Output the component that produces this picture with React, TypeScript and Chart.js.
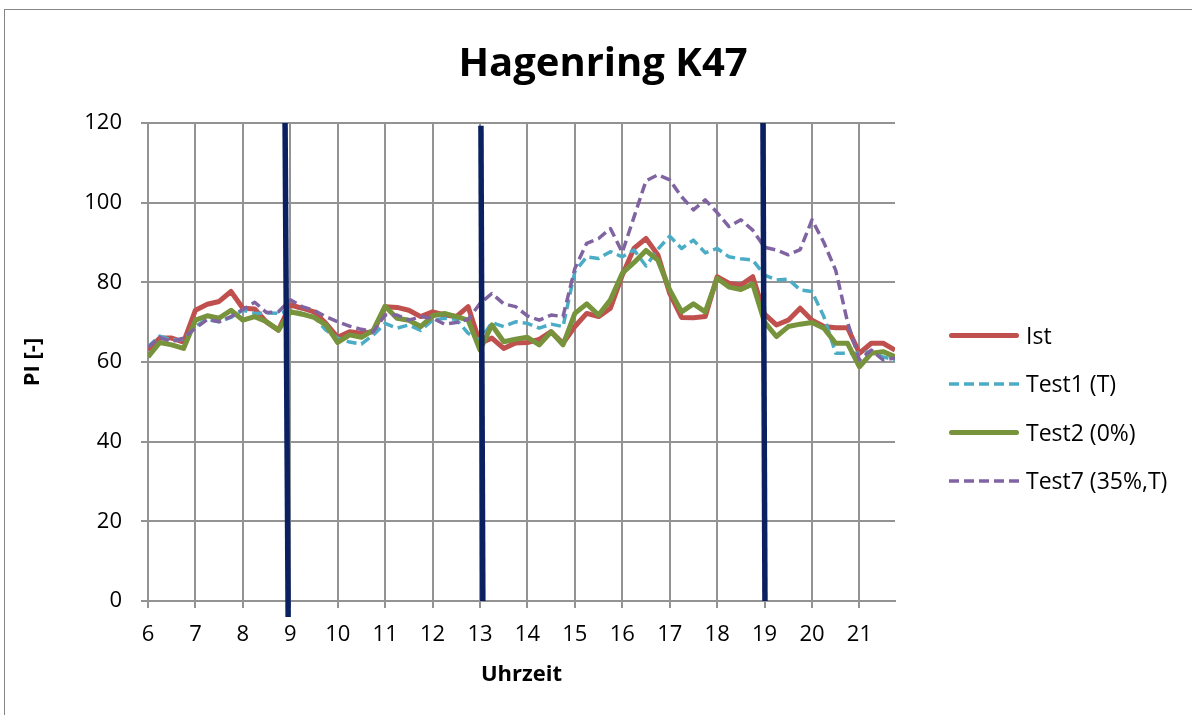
import React, { useEffect, useRef } from 'react';
import { Chart, registerables } from 'chart.js';

Chart.register(...registerables);

const chartTitle = 'Hagenring K47';
const xAxisTitle = 'Uhrzeit';
const yAxisTitle = 'PI [-]';

const hourTicks = [6, 7, 8, 9, 10, 11, 12, 13, 14, 15, 16, 17, 18, 19, 20, 21];

const timeOfDay = [
  6, 6.25, 6.5, 6.75, 7, 7.25, 7.5, 7.75, 8, 8.25, 8.5, 8.75,
  9, 9.25, 9.5, 9.75, 10, 10.25, 10.5, 10.75, 11, 11.25, 11.5, 11.75,
  12, 12.25, 12.5, 12.75, 13, 13.25, 13.5, 13.75, 14, 14.25, 14.5, 14.75,
  15, 15.25, 15.5, 15.75, 16, 16.25, 16.5, 16.75, 17, 17.25, 17.5, 17.75,
  18, 18.25, 18.5, 18.75, 19, 19.25, 19.5, 19.75, 20, 20.25, 20.5, 20.75,
  21, 21.25, 21.5, 21.75,
];

const ist = [
  63, 66, 66, 65, 73, 74.5, 75.2, 77.7, 73.5, 73.3, 70, 68,
  74.3, 73.5, 72.6, 69.7, 66.2, 67.6, 67.2, 67.6, 73.9, 73.7, 73, 71.4,
  72.6, 71.8, 71.4, 73.9, 64.7, 66, 63.4, 64.8, 64.9, 65.7, 67.6, 64.7,
  68.9, 72.2, 71.4, 73.5, 81.8, 88.6, 91, 86.9, 77.2, 71.2, 71.1, 71.4,
  81.4, 79.8, 79.3, 81.4, 72, 69.3, 70.5, 73.5, 70.5, 68.9, 68.6, 68.6,
  62.2, 64.7, 64.7, 63,
];

const test1 = [
  63.8, 66.5, 65.5, 65.7, 69, 70.7, 70.1, 71.2, 73, 72.2, 72.3, 72.2,
  73, 72.2, 71.4, 68, 66, 65, 64.5, 66.8, 69.7, 68.5, 69.3, 67.9,
  70.5, 71, 70.7, 67.2, 65.5, 69.9, 68.9, 70.1, 69.7, 68.5, 69.5, 68.9,
  82.7, 86.4, 86, 87.7, 86.4, 88.1, 84.1, 88.3, 91.6, 88.5, 90.6, 87.4,
  88.5, 86.4, 85.9, 85.6, 81.8, 80.6, 80.8, 78.1, 77.7, 71.4, 62.2, 62.2,
  62.2, 62.6, 61.3, 60.5,
];

const test2 = [
  61.3, 64.9, 64.3, 63.4, 70.5, 71.6, 71, 73, 70.5, 71.4, 70.1, 68,
  72.6, 72, 71.2, 69.3, 64.9, 66.8, 66.2, 68, 74, 71, 70.5, 68.9,
  71.6, 72.2, 71.4, 70.5, 63, 69.3, 65.1, 65.7, 66.2, 64.3, 67.6, 64.3,
  72.2, 74.6, 71.8, 75.6, 82.3, 85, 88, 85.6, 78.1, 72.6, 74.6, 72.6,
  81, 78.8, 78.2, 79.6, 70, 66.4, 68.9, 69.5, 69.9, 68.5, 64.7, 64.7,
  58.8, 62.2, 62.6, 61.3,
];

const test7 = [
  63.7, 66.2, 65.1, 66, 68.5, 70.7, 70.1, 71.4, 73.2, 75, 72.4, 72.6,
  75.6, 73.9, 73, 71.4, 70.1, 69, 68.2, 67.6, 71.8, 71.8, 70.5, 71.4,
  71, 69.5, 69.9, 70.7, 74.7, 77.2, 74.6, 73.9, 71.6, 70.5, 71.8, 71.4,
  83.5, 89.8, 91, 93.5, 87.5, 96.5, 105.5, 107, 105.7, 101.5, 98.2, 100.7,
  97.5, 94, 95.7, 93.1, 88.8, 88.1, 86.9, 88.2, 95.7, 90, 83, 70,
  60.5, 63, 60.5, 61,
];

const seriesLabels = ['Ist', 'Test1 (T)', 'Test2 (0%)', 'Test7 (35%,T)'];
const seriesValues = [ist, test1, test2, test7];

// vertical marker lines drawn over the chart (start point -> end point, in data units)
const markerStartX = [8.89, 13.02, 18.966];
const markerStartY = [120, 119.3, 120];
const markerEndX = [8.955, 13.06, 19.008];
const markerEndY = [-4, 0, 0];

const seriesStyles = [
  { color: '#C0504D', width: 5, dash: [] as number[], order: 4 },
  { color: '#4BACC6', width: 3.5, dash: [10, 5], order: 3 },
  { color: '#77933C', width: 5, dash: [] as number[], order: 2 },
  { color: '#8064A2', width: 3.5, dash: [10, 5], order: 1 },
];

const GRID = '#939393';
const FONT = '"Open Sans", "Noto Sans", sans-serif';

const overlayPlugin = {
  id: 'overlayTexts',
  afterDraw(chart: any) {
    const ctx = chart.ctx as CanvasRenderingContext2D;
    ctx.save();
    // title
    ctx.fillStyle = '#000';
    ctx.font = `bold 40px ${FONT}`;
    ctx.textAlign = 'center';
    ctx.textBaseline = 'alphabetic';
    ctx.fillText(chartTitle, 603, 76);
    // legend
    seriesLabels.forEach((label, i) => {
      const st = seriesStyles[i];
      const y = 335.5 + i * 48.5;
      ctx.beginPath();
      ctx.strokeStyle = st.color;
      ctx.lineWidth = st.width;
      ctx.setLineDash(st.dash);
      if (st.dash.length) {
        ctx.lineCap = 'butt';
        ctx.moveTo(949, y);
        ctx.lineTo(1019, y);
      } else {
        ctx.lineCap = 'round';
        ctx.moveTo(951.5, y);
        ctx.lineTo(1016.5, y);
      }
      ctx.stroke();
      ctx.setLineDash([]);
      ctx.fillStyle = '#000';
      ctx.font = `23px ${FONT}`;
      ctx.textAlign = 'left';
      ctx.textBaseline = 'alphabetic';
      ctx.fillText(label, 1026, y + 8);
    });
    ctx.restore();
  },
};

export default function App() {
  const canvasRef = useRef<HTMLCanvasElement | null>(null);

  useEffect(() => {
    const canvas = canvasRef.current;
    if (!canvas) return;
    Chart.defaults.font.family = FONT;

    const seriesDatasets = seriesValues.map((vals, s) => ({
      label: seriesLabels[s],
      data: timeOfDay.map((t, i) => ({ x: t, y: vals[i] })),
      borderColor: seriesStyles[s].color,
      backgroundColor: seriesStyles[s].color,
      borderWidth: seriesStyles[s].width,
      borderDash: seriesStyles[s].dash,
      borderJoinStyle: 'round' as const,
      borderCapStyle: 'butt' as const,
      pointRadius: 0,
      tension: 0,
      order: seriesStyles[s].order,
    }));

    const markerDatasets = markerStartX.map((x1, k) => ({
      label: 'marker' + k,
      data: [
        { x: x1, y: markerStartY[k] },
        { x: markerEndX[k], y: markerEndY[k] },
      ],
      borderColor: '#0A2060',
      backgroundColor: '#0A2060',
      borderWidth: 5.5,
      borderCapStyle: 'butt' as const,
      pointRadius: 0,
      tension: 0,
      clip: false as const,
      order: 0,
    }));

    const chart = new Chart(canvas, {
      type: 'line',
      data: { datasets: [...seriesDatasets, ...markerDatasets] as any },
      options: {
        responsive: false,
        animation: false,
        devicePixelRatio: 1,
        layout: { padding: { left: 0, top: 123, right: 297, bottom: 27 } },
        plugins: {
          legend: { display: false },
          title: { display: false },
          tooltip: { enabled: false },
        },
        scales: {
          x: {
            type: 'linear',
            min: 6,
            max: 21.75,
            afterBuildTicks: (scale: any) => {
              scale.ticks = hourTicks.map((v) => ({ value: v }));
            },
            afterFit: (scale: any) => {
              scale.height = 87;
            },
            ticks: {
              color: '#000',
              font: { size: 22, family: FONT },
              padding: 14,
              maxRotation: 0,
              autoSkip: false,
              callback: (v: any) => String(v),
            },
            grid: { color: GRID, lineWidth: 2, drawTicks: true, tickLength: 7 },
            border: { display: true, color: GRID, width: 2 },
            title: {
              display: true,
              text: xAxisTitle,
              color: '#000',
              font: { size: 22, weight: 'bold', family: FONT },
              padding: { top: 0, bottom: 0 },
            },
          },
          y: {
            type: 'linear',
            min: 0,
            max: 120,
            afterFit: (scale: any) => {
              scale.width = 148;
            },
            ticks: {
              stepSize: 20,
              color: '#000',
              font: { size: 22, family: FONT },
              padding: 19,
            },
            grid: { color: GRID, lineWidth: 2, drawTicks: true, tickLength: 7 },
            border: { display: true, color: GRID, width: 2 },
            title: {
              display: true,
              text: yAxisTitle,
              color: '#000',
              font: { size: 22, weight: 'bold', family: FONT },
              padding: { top: 20, bottom: 0 },
            },
          },
        },
      },
      plugins: [overlayPlugin],
    });

    return () => {
      chart.destroy();
    };
  }, []);

  return (
    <div
      style={{
        position: 'absolute',
        left: 0,
        top: 0,
        width: 1192,
        height: 715,
        overflow: 'hidden',
        background: '#ffffff',
      }}
    >
      <div
        style={{
          position: 'absolute',
          left: 4,
          top: 9,
          width: 1400,
          height: 900,
          border: '1px solid #868686',
        }}
      />
      <canvas
        ref={canvasRef}
        width={1192}
        height={715}
        style={{ position: 'absolute', left: 0, top: 0, width: 1192, height: 715 }}
      />
    </div>
  );
}
